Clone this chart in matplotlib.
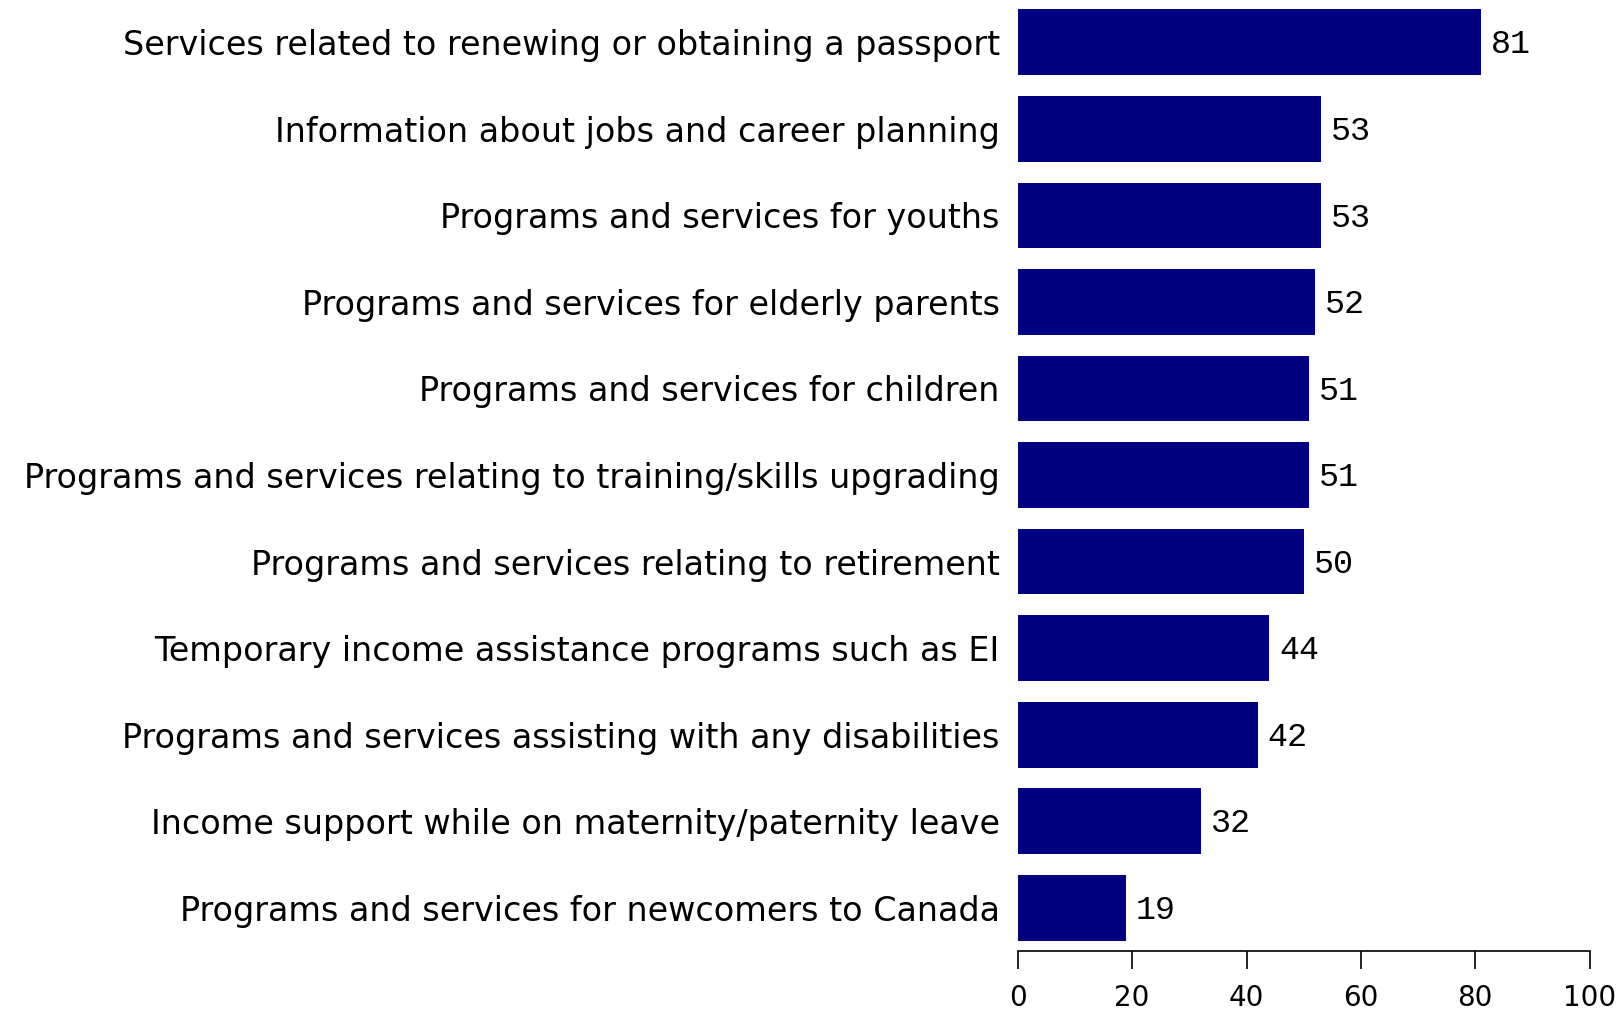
import matplotlib
matplotlib.use("Agg")
import matplotlib.pyplot as plt
from matplotlib import font_manager

categories = [
    "Services related to renewing or obtaining a passport",
    "Information about jobs and career planning",
    "Programs and services for youths",
    "Programs and services for elderly parents",
    "Programs and services for children",
    "Programs and services relating to training/skills upgrading",
    "Programs and services relating to retirement",
    "Temporary income assistance programs such as EI",
    "Programs and services assisting with any disabilities",
    "Income support while on maternity/paternity leave",
    "Programs and services for newcomers to Canada",
]
values = [81, 53, 53, 52, 51, 51, 50, 44, 42, 32, 19]
xticks = [0, 20, 40, 60, 80, 100]

names = {f.name for f in font_manager.fontManager.ttflist}
label_font = "DejaVu Sans"
value_font = "Liberation Mono" if "Liberation Mono" in names else "DejaVu Sans Mono"

fig = plt.figure(figsize=(16.18, 10.14), dpi=100)
ax = fig.add_axes([0.629, 0.0621, 0.3535, 0.9379])

ypos = list(range(len(categories)))
ax.barh(ypos, values, height=0.76, color="#000080")

for y, v in zip(ypos, values):
    ax.text(v + 1.7, y + 0.03, str(v), va="center", ha="left",
            fontsize=24, family=value_font, color="black")

ax.set_xlim(0, 100)
ax.set_ylim(10.50, -0.489)
ax.set_yticks(ypos)
ax.set_yticklabels(categories, family=label_font, fontsize=24)
ax.tick_params(axis="y", length=0, pad=13)
ax.set_xticks(xticks)
ax.set_xticklabels([str(t) for t in xticks], family=label_font, fontsize=20)
ax.tick_params(axis="x", direction="out", length=13, width=1.2, pad=11)

for s in ("top", "right", "left"):
    ax.spines[s].set_visible(False)
ax.spines["bottom"].set_linewidth(1.2)

fig.savefig("out.png", dpi=100)
